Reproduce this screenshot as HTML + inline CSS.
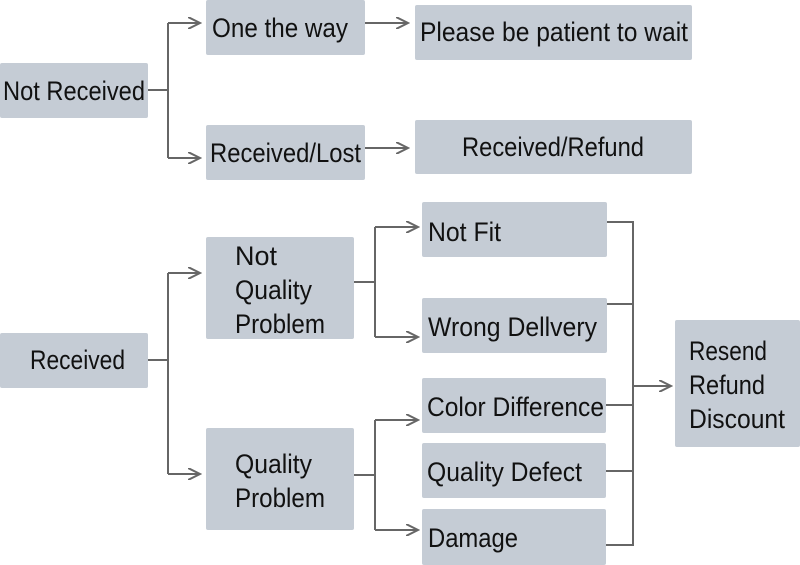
<!DOCTYPE html>
<html><head><meta charset="utf-8"><style>
html,body{margin:0;padding:0;background:#fff;}
svg{display:block}
text{font-family:"Liberation Sans",sans-serif;font-size:27px;fill:#111;}
</style></head><body>
<svg width="800" height="565" viewBox="0 0 800 565" xmlns="http://www.w3.org/2000/svg">
<defs>
<marker id="a" markerWidth="14" markerHeight="12" refX="12" refY="6" orient="auto" markerUnits="userSpaceOnUse">
<path d="M0,0 L12,6 L0,12" fill="none" stroke="#666" stroke-width="2"/>
</marker>
</defs>
<g fill="#c5ccd5">
<rect x="0" y="63" width="148" height="55" rx="2"/>
<rect x="206" y="0" width="159" height="55" rx="2"/>
<rect x="206" y="125" width="159" height="55" rx="2"/>
<rect x="415" y="5" width="277" height="55" rx="2"/>
<rect x="415" y="120" width="277" height="54" rx="2"/>
<rect x="0" y="333" width="148" height="55" rx="2"/>
<rect x="206" y="237" width="148" height="102" rx="2"/>
<rect x="206" y="428" width="148" height="102" rx="2"/>
<rect x="422" y="202" width="185" height="55" rx="2"/>
<rect x="422" y="298" width="185" height="55" rx="2"/>
<rect x="422" y="378" width="184" height="55" rx="2"/>
<rect x="422" y="443" width="184" height="55" rx="2"/>
<rect x="422" y="509" width="184" height="56" rx="2"/>
<rect x="675" y="320" width="125" height="127" rx="2"/>
</g>
<g fill="none" stroke="#666" stroke-width="2">
<path d="M148,90 H168 M168,23 V158"/>
<path d="M168,23 H200" marker-end="url(#a)"/>
<path d="M168,158 H200" marker-end="url(#a)"/>
<path d="M365,23 H408" marker-end="url(#a)"/>
<path d="M365,148 H408" marker-end="url(#a)"/>
<path d="M148,360 H168 M168,273 V474"/>
<path d="M168,273 H200" marker-end="url(#a)"/>
<path d="M168,474 H200" marker-end="url(#a)"/>
<path d="M354,282 H375 M375,227 V337"/>
<path d="M375,227 H418" marker-end="url(#a)"/>
<path d="M375,337 H418" marker-end="url(#a)"/>
<path d="M354,475 H375 M375,420 V530"/>
<path d="M375,420 H418" marker-end="url(#a)"/>
<path d="M375,530 H418" marker-end="url(#a)"/>
<path d="M607,222 H633 V545 H606 M607,304 H633 M606,405 H633 M606,471 H633"/>
<path d="M633,386 H671" marker-end="url(#a)"/>
</g>
<text x="3" y="100" textLength="142" lengthAdjust="spacingAndGlyphs">Not Received</text>
<text x="212" y="37" textLength="136" lengthAdjust="spacingAndGlyphs">One the way</text>
<text x="210" y="162" textLength="151" lengthAdjust="spacingAndGlyphs">Received/Lost</text>
<text x="420" y="41" textLength="268" lengthAdjust="spacingAndGlyphs">Please be patient to wait</text>
<text x="462" y="156" textLength="182" lengthAdjust="spacingAndGlyphs">Received/Refund</text>
<text x="30" y="369" textLength="95" lengthAdjust="spacingAndGlyphs">Received</text>
<text x="235" y="265" textLength="42" lengthAdjust="spacingAndGlyphs">Not</text>
<text x="235" y="299" textLength="77" lengthAdjust="spacingAndGlyphs">Quality</text>
<text x="235" y="333" textLength="90" lengthAdjust="spacingAndGlyphs">Problem</text>
<text x="235" y="473" textLength="77" lengthAdjust="spacingAndGlyphs">Quality</text>
<text x="235" y="507" textLength="90" lengthAdjust="spacingAndGlyphs">Problem</text>
<text x="428" y="241" textLength="73" lengthAdjust="spacingAndGlyphs">Not Fit</text>
<text x="428" y="336" textLength="169" lengthAdjust="spacingAndGlyphs">Wrong Dellvery</text>
<text x="427" y="416" textLength="177" lengthAdjust="spacingAndGlyphs">Color Difference</text>
<text x="427" y="481" textLength="155" lengthAdjust="spacingAndGlyphs">Quality Defect</text>
<text x="428" y="547" textLength="90" lengthAdjust="spacingAndGlyphs">Damage</text>
<text x="689" y="360" textLength="78" lengthAdjust="spacingAndGlyphs">Resend</text>
<text x="689" y="394" textLength="76" lengthAdjust="spacingAndGlyphs">Refund</text>
<text x="689" y="428" textLength="96" lengthAdjust="spacingAndGlyphs">Discount</text>
</svg>
</body></html>
